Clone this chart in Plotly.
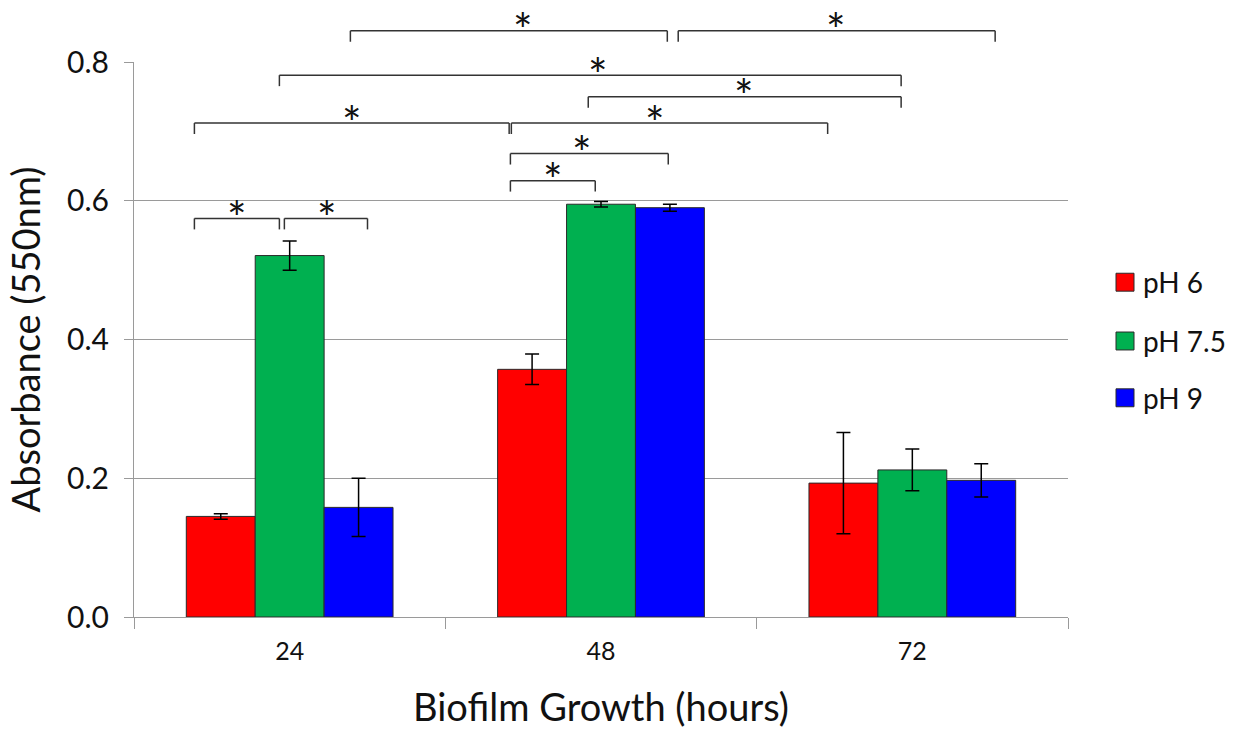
import plotly.graph_objects as go

# Biofilm growth at three pH values (absorbance at 550 nm)
hours = ["24", "48", "72"]
series_names = ["pH 6", "pH 7.5", "pH 9"]
series_colors = ["#FF0000", "#00B050", "#0000FF"]

ph6_mean = [0.145, 0.357, 0.193]
ph6_err = [0.004, 0.022, 0.073]
ph75_mean = [0.521, 0.595, 0.212]
ph75_err = [0.021, 0.004, 0.030]
ph9_mean = [0.158, 0.590, 0.197]
ph9_err = [0.042, 0.005, 0.024]

y_ticks = [0.0, 0.2, 0.4, 0.6, 0.8]
y_tick_labels = ["0.0", "0.2", "0.4", "0.6", "0.8"]
Y_MAX = 0.8

# Significance brackets: left x, right x (category index units), height (absorbance), star x
bracket_left = [0.195, 1.248, -0.033, 0.959, -0.306, 0.712, 0.709, 0.709, -0.306, -0.017]
bracket_right = [1.213, 2.266, 1.964, 1.964, 0.705, 1.728, 1.216, 0.9815, -0.033, 0.250]
bracket_height = [0.845, 0.845, 0.781, 0.750, 0.712, 0.712, 0.668, 0.629, 0.5745, 0.5745]
star_x = [0.750, 1.755, 0.991, 1.46, 0.20, 1.174, 0.94, 0.845, -0.17, 0.12]

FONT = "Lato"
AXIS_GRAY = "#9a9a9a"
BRACKET_COLOR = "#333333"

means = [ph6_mean, ph75_mean, ph9_mean]
errs = [ph6_err, ph75_err, ph9_err]

fig = go.Figure()
for name, color, m, e in zip(series_names, series_colors, means, errs):
    fig.add_trace(go.Bar(
        x=hours, y=m, name=name,
        marker=dict(color=color, line=dict(color="#2a2a2a", width=1)),
        error_y=dict(type="data", array=e, visible=True, color="black",
                     thickness=1.5, width=7),
        showlegend=False,
    ))

shapes = []
annotations = []

# brackets drawn above the bars
drop = 11 / 557  # short vertical ends of each bracket
for xl, xr, h, sx in zip(bracket_left, bracket_right, bracket_height, star_x):
    yp = h / Y_MAX
    line = dict(color=BRACKET_COLOR, width=1.5)
    shapes.append(dict(type="line", xref="x", yref="paper", x0=xl, x1=xr, y0=yp, y1=yp, line=line))
    shapes.append(dict(type="line", xref="x", yref="paper", x0=xl, x1=xl, y0=yp, y1=yp - drop, line=line))
    shapes.append(dict(type="line", xref="x", yref="paper", x0=xr, x1=xr, y0=yp, y1=yp - drop, line=line))
    annotations.append(dict(xref="x", yref="paper", x=sx, y=yp, text="*", showarrow=False,
                            xanchor="center", yanchor="middle", yshift=1,
                            font=dict(family=FONT, size=46, color="#111111")))

# legend on the right
legend_rows = [283, 342, 399]
for name, color, py in zip(series_names, series_colors, legend_rows):
    yc = (619 - py) / 557
    x0 = (1116 - 134) / 934
    x1 = (1134 - 134) / 934
    half = 9 / 557
    shapes.append(dict(type="rect", xref="paper", yref="paper", x0=x0, x1=x1, y0=yc - half, y1=yc + half,
                       fillcolor=color, line=dict(color="#2a2a2a", width=1)))
    annotations.append(dict(xref="paper", yref="paper", x=(1141 - 134) / 934, y=yc, text=name,
                            showarrow=False, xanchor="left", yanchor="middle",
                            font=dict(family=FONT, size=28, color="#111111")))

fig.update_layout(
    width=1243, height=734,
    margin=dict(l=134, r=175, t=62, b=115),
    paper_bgcolor="white", plot_bgcolor="white",
    barmode="group", bargap=0.336, bargroupgap=0,
    font=dict(family=FONT, color="#111111"),
    shapes=shapes, annotations=annotations,
    showlegend=False,
)
fig.update_xaxes(
    type="category", tickson="boundaries", ticks="outside", ticklen=11,
    tickcolor=AXIS_GRAY, showline=True, linecolor=AXIS_GRAY, linewidth=1,
    showgrid=False, tickfont=dict(size=25, family=FONT, color="#111111"),
    ticklabelstandoff=12,
    title=dict(text="Biofilm Growth (hours)", font=dict(size=38, family=FONT, color="#111111"), standoff=30),
)
fig.update_yaxes(
    range=[0, Y_MAX], tickvals=y_ticks, ticktext=y_tick_labels, ticks="outside", ticklen=9,
    tickcolor=AXIS_GRAY, showline=True, linecolor=AXIS_GRAY, linewidth=1,
    showgrid=True, gridcolor=AXIS_GRAY, gridwidth=1, zeroline=False,
    tickfont=dict(size=30, family=FONT, color="#111111"),
    ticklabelstandoff=9,
    title=dict(text="Absorbance (550nm)", font=dict(size=38, family=FONT, color="#111111"), standoff=14),
)

fig.write_html("out.html")
